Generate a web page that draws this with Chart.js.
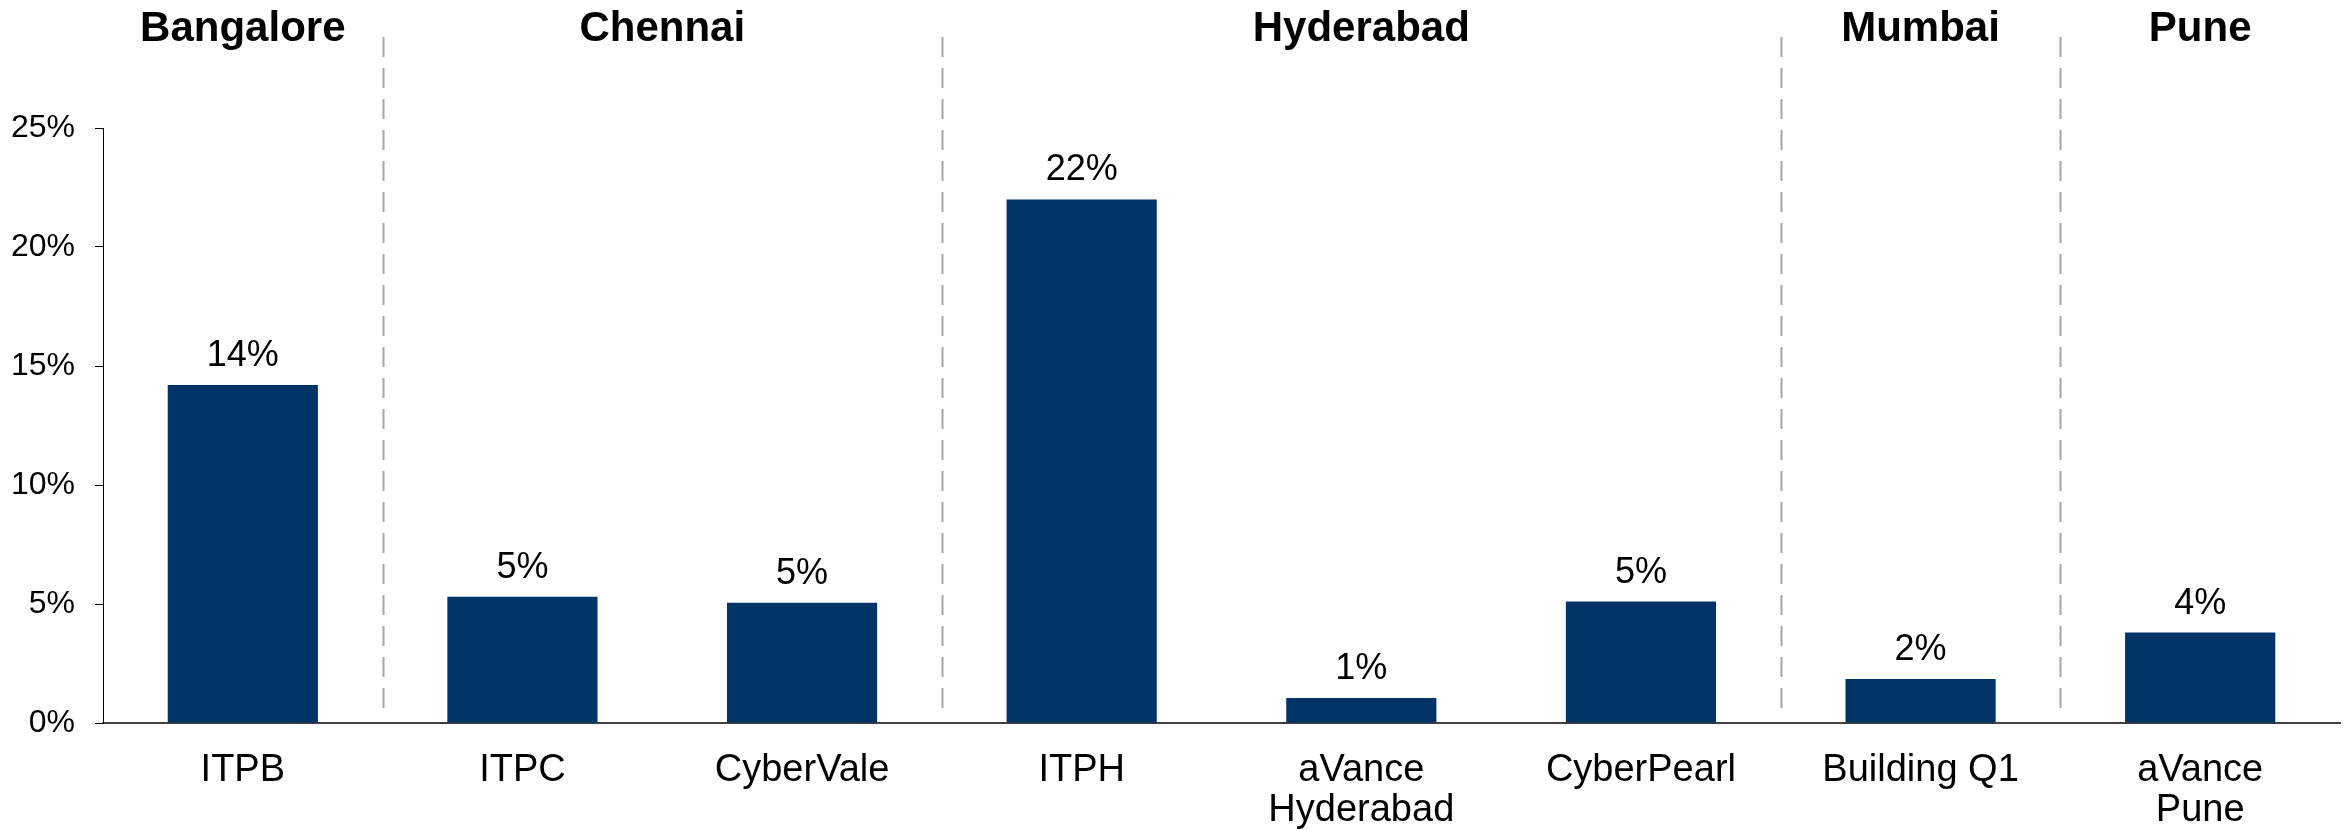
<!DOCTYPE html>
<html>
<head>
<meta charset="utf-8">
<script src="https://cdn.jsdelivr.net/npm/chart.js@4"></script>
<style>
  body { margin: 0; background: #fff; }
  #wrap { width: 2346px; height: 830px; }
</style>
</head>
<body>
<div id="wrap"><canvas id="myChart" width="2346" height="830"></canvas></div>
<script>
// data
let labels = ['ITPB', 'ITPC', 'CyberVale', 'ITPH', ['aVance', 'Hyderabad'], 'CyberPearl', 'Building Q1', ['aVance', 'Pune']];
let values = [14.2, 5.3, 5.05, 22.0, 1.05, 5.1, 1.85, 3.8];
let groups = ['Bangalore', 'Chennai', 'Hyderabad', 'Mumbai', 'Pune'];
let group_sizes = [1, 2, 3, 1, 1];
let y_ticks = [0, 5, 10, 15, 20, 25];

const FONT = "'Liberation Sans', Arial, sans-serif";

// value labels above each bar
const bar_labels = {
    id: 'bar_labels',
    afterDatasetsDraw(chart) {
        let ctx = chart.ctx;
        let meta = chart.getDatasetMeta(0);
        ctx.save();
        ctx.font = `36px ${FONT}`;
        ctx.fillStyle = '#000';
        ctx.textAlign = 'center';
        ctx.textBaseline = 'alphabetic';
        meta.data.forEach((bar, i) => {
            ctx.fillText(Math.round(values[i]) + '%', bar.x, bar.y - 19);
        });
        ctx.restore();
    }
};

// city headers and dashed separators between them
const city_groups = {
    id: 'city_groups',
    afterDraw(chart) {
        let ctx = chart.ctx;
        let xs = chart.scales.x;
        let step = xs.getPixelForValue(1) - xs.getPixelForValue(0);
        ctx.save();
        let start = 0;
        groups.forEach((g, gi) => {
            let end = start + group_sizes[gi] - 1;
            let cx = (xs.getPixelForValue(start) + xs.getPixelForValue(end)) / 2;
            ctx.font = `bold 42px ${FONT}`;
            ctx.fillStyle = '#000';
            ctx.textAlign = 'center';
            ctx.textBaseline = 'middle';
            ctx.fillText(g, cx, 29);
            if (gi < groups.length - 1) {
                let sx = Math.round(xs.getPixelForValue(end) + step / 2) + 0.5;
                ctx.beginPath();
                ctx.setLineDash([20, 11]);
                ctx.strokeStyle = '#a6a6a6';
                ctx.lineWidth = 2;
                ctx.moveTo(sx, 37);
                ctx.lineTo(sx, 712);
                ctx.stroke();
            }
            start = end + 1;
        });
        ctx.restore();
    }
};

let ctx = document.getElementById('myChart');
let chart = new Chart(ctx, {
    type: 'bar',
    data: {
        labels: labels,
        datasets: [{
            data: values,
            backgroundColor: '#003466',
            borderWidth: 0,
            barPercentage: 1,
            categoryPercentage: 0.537
        }]
    },
    options: {
        responsive: false,
        animation: false,
        devicePixelRatio: 1,
        layout: { padding: { top: 128, right: 6, left: 0, bottom: 0 } },
        plugins: {
            legend: { display: false },
            tooltip: { enabled: false }
        },
        scales: {
            x: {
                grid: { display: false, drawTicks: false },
                border: { display: true, color: '#404040', width: 2 },
                ticks: {
                    color: '#000',
                    font: { family: FONT, size: 38, lineHeight: 1.05 },
                    padding: 28,
                    maxRotation: 0,
                    autoSkip: false
                },
                afterFit(scale) { scale.height = 107; }
            },
            y: {
                min: 0,
                max: 25,
                afterBuildTicks(scale) { scale.ticks = y_ticks.map(v => ({ value: v })); },
                grid: { drawOnChartArea: false, drawTicks: true, tickLength: 8, color: '#000', lineWidth: 1 },
                border: { display: true, color: '#000', width: 1 },
                ticks: {
                    color: '#000',
                    font: { family: FONT, size: 32 },
                    padding: 20,
                    callback: v => v + '%'
                },
                afterFit(scale) { scale.width = 103; }
            }
        }
    },
    plugins: [bar_labels, city_groups]
});
</script>
</body>
</html>
